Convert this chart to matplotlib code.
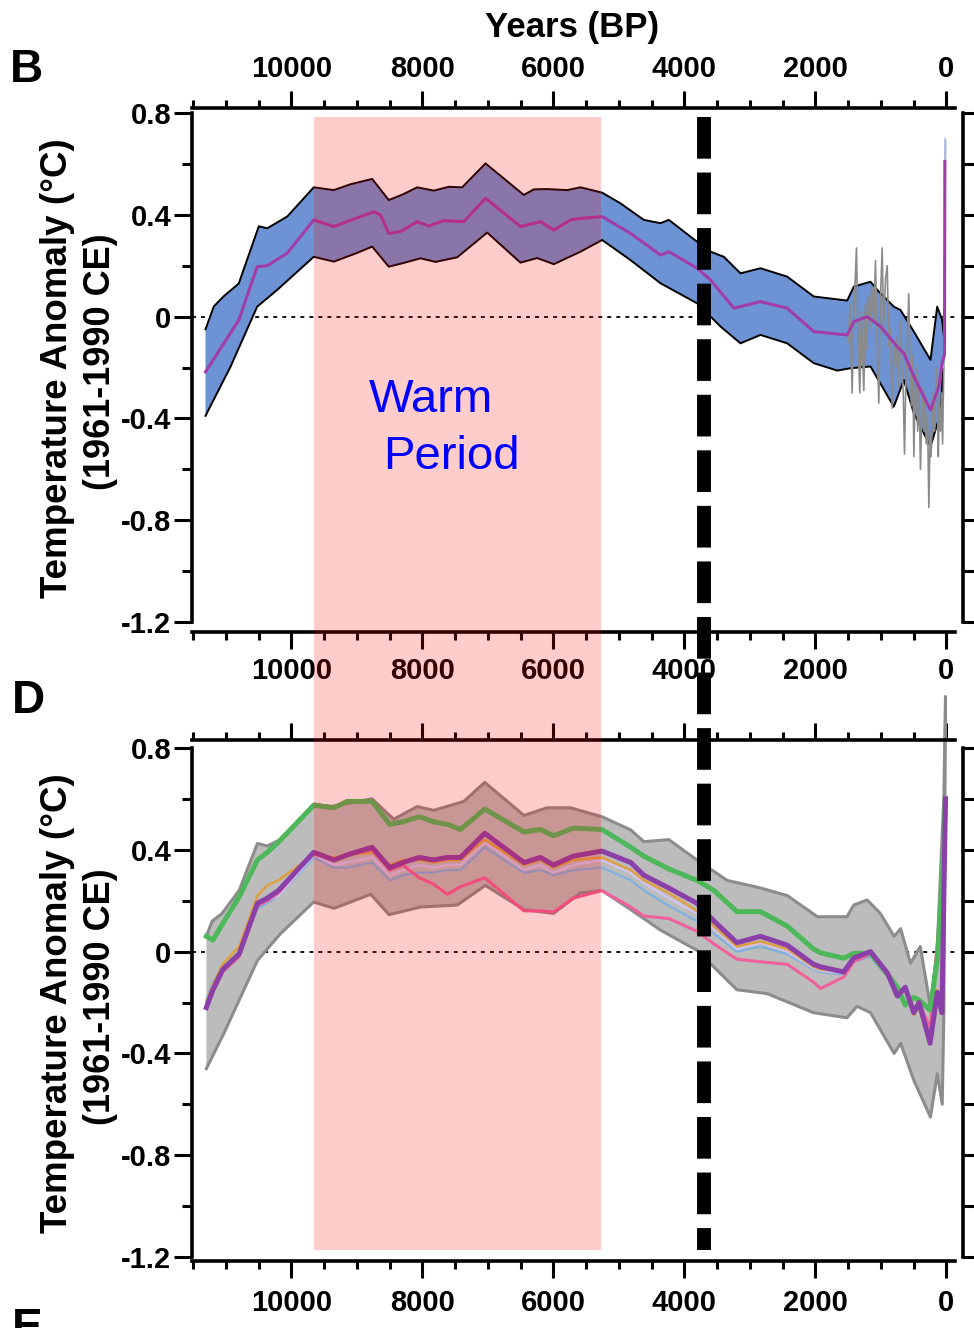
import matplotlib
matplotlib.use("Agg")
import matplotlib.pyplot as plt
from matplotlib.patches import Rectangle
from matplotlib.lines import Line2D
from matplotlib.transforms import blended_transform_factory

plt.rcParams['font.family'] = ['Liberation Sans', 'DejaVu Sans']

# ---------------- data: panel B ----------------
b_up_years = [11313, 11186, 11034, 10805, 10499, 10371, 10066, 9660, 9354, 9100, 8768, 8515, 8300, 8081, 7827,
              7600, 7394, 7038, 6453, 6300, 6097, 5791, 5588, 5257, 4977, 4621, 4366, 4239, 3908, 3603, 3400,
              3145, 2840, 2432, 2026, 1516, 1415, 1160, 1058, 804, 702, 498, 244, 142, 66, 30]
b_up_vals = [-0.05, 0.04, 0.08, 0.13, 0.355, 0.347, 0.393, 0.508, 0.497, 0.52, 0.541, 0.458, 0.48, 0.508,
             0.495, 0.51, 0.508, 0.602, 0.478, 0.50, 0.501, 0.497, 0.508, 0.487, 0.445, 0.38, 0.367, 0.38,
             0.314, 0.255, 0.235, 0.17, 0.19, 0.157, 0.079, 0.063, 0.118, 0.137, 0.105, 0.039, 0.026, -0.059,
             -0.17, 0.039, -0.013, -0.10]
b_lo_years = [11313, 10931, 10524, 10218, 9660, 9354, 9000, 8768, 8515, 8300, 8031, 7800, 7470, 7012, 6504,
              6250, 5995, 5588, 5257, 4824, 4366, 3806, 3450, 3145, 2840, 2432, 2026, 1669, 1466, 1160, 804,
              651, 498, 244, 92, 41, 30]
b_lo_vals = [-0.39, -0.197, 0.039, 0.105, 0.235, 0.216, 0.25, 0.275, 0.196, 0.21, 0.229, 0.215, 0.233, 0.33,
             0.212, 0.23, 0.206, 0.255, 0.301, 0.222, 0.131, 0.052, -0.039, -0.105, -0.072, -0.105, -0.183,
             -0.212, -0.203, -0.196, -0.354, -0.249, -0.38, -0.511, -0.38, -0.17, -0.10]
b_mean_years = [11313, 10805, 10524, 10371, 10066, 9660, 9354, 8744, 8641, 8515, 8336, 8081, 7904, 7675, 7370,
                7038, 6504, 6198, 5995, 5740, 5588, 5257, 4824, 4366, 4239, 3806, 3603, 3247, 2840, 2432,
                2026, 1516, 1415, 1211, 1008, 753, 651, 498, 244, 117, 66, 30, 25]
b_mean_vals = [-0.217, -0.014, 0.196, 0.2, 0.249, 0.38, 0.354, 0.412, 0.399, 0.327, 0.334, 0.373, 0.356, 0.377,
               0.373, 0.465, 0.354, 0.373, 0.34, 0.38, 0.386, 0.393, 0.327, 0.242, 0.255, 0.19, 0.144, 0.033,
               0.059, 0.033, -0.059, -0.072, -0.02, 0.0, -0.039, -0.118, -0.144, -0.236, -0.367, -0.275,
               -0.183, -0.15, 0.61]
b_gray_years = [1500, 1470, 1440, 1420, 1400, 1374, 1350, 1323, 1300, 1280, 1262, 1240, 1221, 1200, 1170, 1140,
                1110, 1084, 1060, 1033, 1010, 982, 960, 930, 905, 880, 855, 829, 800, 775, 753, 730, 702, 680,
                660, 641, 620, 600, 576, 555, 535, 515, 498, 480, 460, 440, 420, 397, 375, 360, 346, 330, 310,
                290, 269, 250, 235, 218, 200, 180, 160, 142, 125, 110, 92, 75, 60, 41, 15]
b_gray_vals = [-0.10, 0.05, -0.30, -0.05, 0.10, 0.27, -0.10, -0.30, 0.02, -0.15, -0.29, 0.05, -0.13, 0.08,
               -0.05, 0.12, -0.02, 0.22, -0.10, -0.34, 0.05, 0.27, -0.05, 0.15, 0.20, -0.12, -0.05, -0.36,
               -0.10, -0.20, -0.08, -0.28, -0.02, -0.20, -0.30, -0.54, -0.25, -0.12, 0.09, -0.20, -0.35,
               -0.15, -0.55, -0.30, -0.20, -0.45, -0.25, -0.60, -0.35, -0.28, -0.45, -0.30, -0.50, -0.38,
               -0.75, -0.45, -0.55, -0.40, -0.30, -0.45, -0.25, -0.20, -0.55, -0.35, -0.45, -0.30, -0.50,
               -0.20, 0.69]
b_blue_years = [40, 28, 22]
b_blue_vals = [-0.20, -0.10, 0.70]

# ---------------- data: panel D ----------------
d_years = [11300, 11200, 11050, 10800, 10520, 10370, 10200, 9660, 9350, 9150, 8770, 8500, 8300, 8050, 7830,
           7620, 7420, 7050, 6450, 6200, 6000, 5700, 5260, 4820, 4620, 4240, 3810, 3550, 3200, 2840, 2430,
           2030, 1920, 1570, 1415, 1160, 900, 750, 630, 500, 420, 250, 140, 70, 15]
d_purple = [-0.22, -0.15, -0.07, -0.01, 0.19, 0.21, 0.24, 0.39, 0.36, 0.38, 0.41, 0.33, 0.35, 0.37, 0.36,
            0.37, 0.37, 0.465, 0.35, 0.37, 0.34, 0.375, 0.395, 0.35, 0.30, 0.25, 0.19, 0.12, 0.035, 0.06,
            0.025, -0.05, -0.06, -0.08, -0.025, 0.0, -0.085, -0.175, -0.14, -0.24, -0.20, -0.36, -0.16,
            -0.24, 0.60]
d_green = [0.06, 0.045, 0.11, 0.215, 0.36, 0.39, 0.43, 0.575, 0.565, 0.59, 0.59, 0.50, 0.51, 0.53, 0.51,
           0.50, 0.48, 0.56, 0.47, 0.48, 0.455, 0.485, 0.48, 0.41, 0.375, 0.325, 0.28, 0.24, 0.157, 0.157,
           0.10, 0.01, -0.005, -0.026, -0.007, -0.007, -0.09, -0.14, -0.21, -0.18, -0.19, -0.23, -0.03,
           0.25, 0.60]
d_pink = [-0.22, -0.16, -0.08, -0.02, 0.18, 0.20, 0.23, 0.39, 0.36, 0.38, 0.40, 0.32, 0.34, 0.29, 0.265,
          0.225, 0.255, 0.29, 0.16, 0.16, 0.155, 0.21, 0.24, 0.175, 0.14, 0.13, 0.08, 0.03, -0.03, -0.04,
          -0.05, -0.12, -0.145, -0.10, -0.04, -0.01, -0.09, -0.16, -0.15, -0.23, -0.20, -0.30, 0.03, 0.25,
          0.55]
d_orange = [-0.20, -0.13, -0.05, 0.02, 0.22, 0.26, 0.28, 0.38, 0.37, 0.38, 0.39, 0.34, 0.36, 0.36, 0.35,
            0.36, 0.36, 0.44, 0.34, 0.36, 0.33, 0.36, 0.37, 0.32, 0.28, 0.23, 0.16, 0.10, 0.02, 0.04, 0.01,
            -0.06, -0.07, -0.08, -0.03, -0.01, -0.10, -0.16, -0.15, -0.25, -0.22, -0.34, -0.15, -0.22, 0.58]
d_lightblue = [-0.19, -0.12, -0.06, 0.0, 0.17, 0.19, 0.22, 0.37, 0.33, 0.33, 0.35, 0.28, 0.30, 0.31, 0.31,
               0.32, 0.32, 0.41, 0.31, 0.32, 0.30, 0.32, 0.33, 0.28, 0.24, 0.18, 0.12, 0.07, 0.0, 0.02,
               -0.01, -0.07, -0.08, -0.09, -0.04, -0.02, -0.10, -0.17, -0.15, -0.25, -0.22, -0.33, -0.16,
               -0.22, 0.58]
d_lavender = [-0.21, -0.14, -0.07, -0.01, 0.18, 0.20, 0.22, 0.38, 0.34, 0.35, 0.37, 0.30, 0.32, 0.34, 0.33,
              0.34, 0.34, 0.43, 0.32, 0.34, 0.31, 0.34, 0.36, 0.31, 0.27, 0.21, 0.15, 0.09, 0.01, 0.035,
              0.0, -0.065, -0.075, -0.085, -0.035, -0.01, -0.095, -0.17, -0.145, -0.245, -0.21, -0.34,
              -0.16, -0.23, 0.59]
d_up_years = [11300, 11210, 11060, 10800, 10520, 10370, 10170, 9660, 9400, 8770, 8440, 8080, 7830, 7370,
              7050, 6450, 6100, 5740, 5260, 4820, 4620, 4240, 3810, 3350, 2840, 2430, 1970, 1520, 1415,
              1210, 1010, 800, 700, 550, 400, 245, 140, 40, 15]
d_up_vals = [0.06, 0.12, 0.15, 0.24, 0.425, 0.415, 0.44, 0.58, 0.57, 0.60, 0.52, 0.57, 0.555, 0.59, 0.665,
             0.535, 0.565, 0.565, 0.53, 0.478, 0.432, 0.44, 0.36, 0.28, 0.25, 0.22, 0.137, 0.137, 0.183,
             0.203, 0.15, 0.06, 0.09, -0.046, 0.02, -0.217, 0.02, 0.61, 1.0]
d_lo_years = [11300, 11030, 10520, 10170, 9660, 9350, 8790, 8510, 8030, 7470, 7040, 6450, 6000, 5590, 5260,
              4820, 4370, 3810, 3200, 2740, 2030, 1520, 1365, 1160, 800, 700, 500, 245, 140, 65, 40, 15]
d_lo_vals = [-0.46, -0.32, -0.035, 0.07, 0.195, 0.17, 0.225, 0.145, 0.175, 0.183, 0.26, 0.165, 0.15, 0.23,
             0.24, 0.165, 0.085, 0.005, -0.15, -0.165, -0.24, -0.26, -0.215, -0.24, -0.40, -0.36, -0.505,
             -0.65, -0.48, -0.60, -0.24, 1.0]

# ---------------- annotations ----------------
warm_start, warm_end = 9650, 5270
event_year = 3700
x_major = [10000, 8000, 6000, 4000, 2000, 0]
x_labels = ['10000', '8000', '6000', '4000', '2000', '0']
x_minor = [11500, 11000, 10500, 9500, 9000, 8500, 7500, 7000, 6500, 5500, 5000, 4500, 3500, 3000, 2500,
           1500, 1000, 500]
y_major = [0.8, 0.4, 0.0, -0.4, -0.8, -1.2]
y_labels = ['0.8', '0.4', '0', '-0.4', '-0.8', '-1.2']
y_minor = [0.6, 0.2, -0.2, -0.6, -1.0]

W, H = 974, 1328
fig = plt.figure(figsize=(W / 100, H / 100), dpi=100)

XL = (11519, -130)
YL = (-1.2, 0.8)


def fx(px):
    return px / W


def fy(py):
    return 1 - py / H


def style_axes(ax, top_off, bot_off, labeltop):
    ax.set_xlim(*XL)
    ax.set_ylim(*YL)
    ax.spines['right'].set_visible(False)
    for s in ['left', 'top', 'bottom']:
        ax.spines[s].set_linewidth(2.6)
    ax.spines['top'].set_position(('outward', top_off))
    ax.spines['bottom'].set_position(('outward', bot_off))
    ax.set_xticks(x_major, labels=x_labels)
    ax.set_xticks(x_minor, minor=True)
    ax.set_yticks(y_major, labels=y_labels)
    ax.set_yticks(y_minor, minor=True)
    ax.tick_params(axis='x', which='both', top=True, bottom=True, labeltop=labeltop, labelbottom=True,
                   direction='out', width=2.2)
    ax.tick_params(axis='x', which='major', length=12, pad=6)
    ax.tick_params(axis='x', which='minor', length=6)
    ax.tick_params(axis='y', which='both', direction='out', width=2.2)
    ax.tick_params(axis='y', which='major', length=13, pad=2)
    ax.tick_params(axis='y', which='minor', length=7)
    for lab in ax.get_xticklabels() + ax.get_yticklabels():
        lab.set_fontsize(21)
        lab.set_fontweight('bold')
    ax.axhline(0, color='black', lw=1.3, ls=(0, (2.2, 2.8)), zorder=1)


axB = fig.add_axes([fx(192), fy(622), fx(955) - fx(192), fy(113) - fy(622)])
axD = fig.add_axes([fx(192), fy(1257), fx(955) - fx(192), fy(748) - fy(1257)])
style_axes(axB, 3.6, 7.2, True)
style_axes(axD, 5.8, 2.9, False)
axD.tick_params(axis='x', which='major', pad=8)

# panel B drawing
poly_x = b_up_years + b_lo_years[::-1]
poly_y = b_up_vals + b_lo_vals[::-1]
axB.fill(poly_x, poly_y, color='#6d93d4', lw=0, zorder=2)
axB.plot(b_up_years, b_up_vals, color='black', lw=1.4, zorder=3)
axB.plot(b_lo_years, b_lo_vals, color='black', lw=1.4, zorder=3)
axB.plot(b_gray_years, b_gray_vals, color='#8a8a8a', lw=1.2, zorder=4)
axB.plot(b_blue_years, b_blue_vals, color='#a8c0f0', lw=1.2, zorder=4)
axB.plot(b_mean_years, b_mean_vals, color='#a23ca8', lw=2.2, zorder=5)

# panel D drawing
pd_x = d_up_years + d_lo_years[::-1]
pd_y = d_up_vals + d_lo_vals[::-1]
axD.fill(pd_x, pd_y, color='#bcbcbc', lw=0, zorder=2, clip_on=False)
axD.plot(d_up_years, d_up_vals, color='#8c8c8c', lw=2.2, zorder=2.5, clip_on=False)
axD.plot(d_lo_years, d_lo_vals, color='#8c8c8c', lw=2.2, zorder=2.5, clip_on=False)
axD.plot(d_years, d_lightblue, color='#80b0e0', lw=1.6, zorder=3)
axD.plot(d_years, d_lavender, color='#d0c4f0', lw=1.8, zorder=3.1)
axD.plot(d_years, d_orange, color='#e0a040', lw=1.8, zorder=3.2)
axD.plot(d_years, d_pink, color='#f0609a', lw=2.2, zorder=3.3)
axD.plot(d_years, d_green, color='#4cb85a', lw=3.6, zorder=3.4)
axD.plot(d_years, d_purple, color='#8b3fa8', lw=3.6, zorder=3.5)

# partial neighbouring panels at right edge
for yb, yt in [(622, 113), (1257, 748)]:
    axR = fig.add_axes([fx(963), fy(yb), 0.05, fy(yt) - fy(yb)])
    axR.set_ylim(*YL)
    axR.set_xticks([])
    for s in ['right', 'top', 'bottom']:
        axR.spines[s].set_visible(False)
    axR.spines['left'].set_linewidth(2.6)
    axR.set_yticks(y_major, labels=[''] * len(y_major))
    axR.set_yticks(y_minor, minor=True)
    axR.tick_params(axis='y', which='both', direction='in', width=2.2, length=9)
    axR.patch.set_alpha(0)

# figure-level warm-period shading and event line spanning both panels
tr = blended_transform_factory(axB.transData, fig.transFigure)
rect = Rectangle((warm_start, fy(1250)), warm_end - warm_start, fy(117) - fy(1250),
                 transform=tr, facecolor=(1, 0, 0, 0.2), edgecolor='none', zorder=10)
fig.add_artist(rect)
ln = Line2D([event_year, event_year], [fy(117), fy(1250)], transform=tr, color='black', lw=10,
            linestyle=(0, (3, 1)), solid_capstyle='butt', dash_capstyle='butt', zorder=11)
fig.add_artist(ln)

# "Warm Period" label drawn above the shading
fig.text(8824, -0.328, 'Warm', color='#0000ff', fontsize=34, ha='left', va='center',
         transform=axB.transData, zorder=12)
fig.text(8595, -0.552, 'Period', color='#0000ff', fontsize=34, ha='left', va='center',
         transform=axB.transData, zorder=12)

# texts
fig.text(fx(572), fy(27), 'Years (BP)', fontsize=25, fontweight='bold', ha='center', va='center')
fig.text(fx(10), fy(70), 'B', fontsize=33, fontweight='bold', ha='left', va='center')
fig.text(fx(12), fy(701), 'D', fontsize=33, fontweight='bold', ha='left', va='center')
fig.text(fx(12), fy(1307), 'E', fontsize=33, fontweight='bold', ha='left', va='top')
for yc in (368, 1003):
    fig.text(fx(58), fy(yc), 'Temperature Anomaly (°C)', fontsize=26.5, fontweight='bold', rotation=90,
             ha='center', va='center')
    fig.text(fx(100), fy(yc - 6), '(1961-1990 CE)', fontsize=26, fontweight='bold', rotation=90,
             ha='center', va='center')

fig.savefig('out.png', dpi=100)
